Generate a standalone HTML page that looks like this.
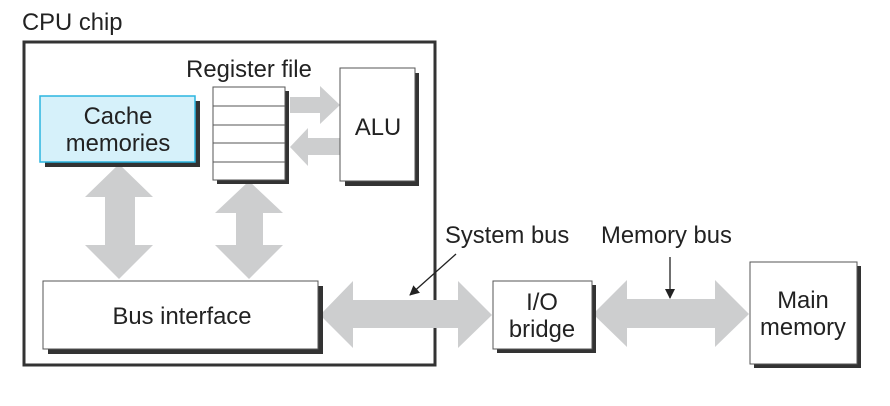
<!DOCTYPE html>
<html><head><style>body{margin:0;background:#fff}</style></head><body>
<svg width="890" height="401" xmlns="http://www.w3.org/2000/svg" font-family="Liberation Sans, sans-serif" font-size="23.8" fill="#222">
<defs><marker id="ah" markerWidth="10" markerHeight="10" refX="9" refY="5" orient="auto" markerUnits="userSpaceOnUse"><path d="M0,0 L10,5 L0,10 z" fill="#222"/></marker></defs>
<text x="22" y="30">CPU chip</text>
<rect x="24" y="42" width="411" height="323" fill="none" stroke="#333" stroke-width="3"/>
<g fill="#cdcecf">
<polygon points="290,97 320,97 320,86 340,105 320,124 320,113 290,113"/>
<polygon points="340,138 308,138 308,128 290,147 308,166 308,155 340,155"/>
<polygon points="119,164 153,197 135,197 135,245 153,245 119,279 85,245 105,245 105,197 85,197"/>
<polygon points="249,181 283,213 263,213 263,245 283,245 249,279 215,245 236,245 236,213 215,213"/>
<polygon points="320,315 353,281 353,300 458,300 458,281 492,315 458,348 458,328 353,328 353,348"/>
<polygon points="593,314 627,280 627,299 715,299 715,280 749,314 715,347 715,328 627,328 627,347"/>
</g>
<rect x="45" y="101" width="155" height="66" fill="#333"/>
<rect x="40" y="96" width="155" height="66" fill="#d6f1fa" stroke="#2bb5e0" stroke-width="1.5"/>
<text x="118" y="124" text-anchor="middle">Cache</text>
<text x="118" y="151" text-anchor="middle">memories</text>
<rect x="217" y="91" width="72" height="93" fill="#333"/>
<rect x="213" y="87" width="72" height="93" fill="#fff" stroke="#555"/>
<g stroke="#555"><line x1="213" y1="106" x2="285" y2="106"/><line x1="213" y1="125" x2="285" y2="125"/><line x1="213" y1="143" x2="285" y2="143"/><line x1="213" y1="162" x2="285" y2="162"/></g>
<text x="249" y="77" text-anchor="middle">Register file</text>
<rect x="345" y="73" width="74" height="113" fill="#333"/>
<rect x="340" y="68" width="75" height="113" fill="#fff" stroke="#555"/>
<text x="378" y="135" text-anchor="middle">ALU</text>
<rect x="48" y="286" width="275" height="68" fill="#333"/>
<rect x="43" y="281" width="275" height="68" fill="#fff" stroke="#555"/>
<text x="182" y="324" text-anchor="middle">Bus interface</text>
<rect x="497" y="285" width="99" height="68" fill="#333"/>
<rect x="493" y="281" width="99" height="68" fill="#fff" stroke="#555"/>
<text x="542" y="310" text-anchor="middle">I/O</text>
<text x="542" y="337" text-anchor="middle">bridge</text>
<rect x="754" y="266" width="107" height="102" fill="#333"/>
<rect x="750" y="262" width="107" height="102" fill="#fff" stroke="#555"/>
<text x="803" y="308" text-anchor="middle">Main</text>
<text x="803" y="335" text-anchor="middle">memory</text>
<text x="445" y="243">System bus</text>
<text x="601" y="243">Memory bus</text>
<line x1="456" y1="254" x2="410" y2="295" stroke="#222" stroke-width="1.3" marker-end="url(#ah)"/>
<line x1="670" y1="257" x2="670" y2="298" stroke="#222" stroke-width="1.3" marker-end="url(#ah)"/>
</svg>
</body></html>
